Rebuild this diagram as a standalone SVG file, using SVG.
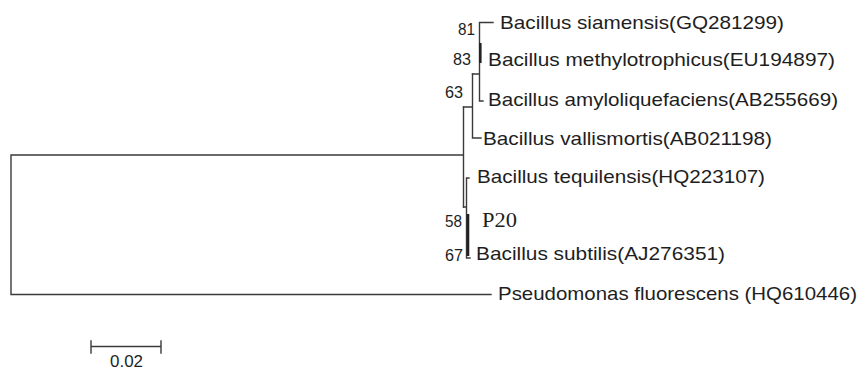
<svg xmlns="http://www.w3.org/2000/svg" width="861" height="370" viewBox="0 0 861 370">
<style>
.ln{stroke:#3a3a3a;stroke-width:1.4;fill:none;stroke-linecap:square}
.tk{stroke:#222;stroke-width:2.6;fill:none}
.lb{font-family:"Liberation Sans",Arial,sans-serif;font-size:19px;fill:#1e1e1e}
.bs{font-family:"Liberation Sans",Arial,sans-serif;font-size:16px;fill:#1e1e1e}
.sv{font-family:"Liberation Serif","Times New Roman",serif;font-size:20px;fill:#1e1e1e}
</style>
<rect width="861" height="370" fill="#fff"/>
<g id="connectors">
<path class="ln" d="M463,155 H11 V294.5 H491"/>
<path class="ln" d="M463.5,107 V207"/>
<path class="ln" d="M463.5,107 H472.5 M472.5,74 V138 H481"/>
<path class="ln" d="M472.5,74 H479.5 M479.5,22.5 V101 H483 M479.5,22.5 H493"/>
<path class="tk" d="M480.3,43 V63"/>
<path class="ln" d="M463.5,207 H466.5 M466.5,178 V258 H470 M466.5,178 H469"/>
<path class="tk" d="M468,214 V256"/>
<path class="ln" d="M91,346.5 H161 M91,341 V353 M161,341 V353"/>
</g>
<g id="node-siamensis"><text class="lb" x="500" y="29" textLength="284" lengthAdjust="spacingAndGlyphs">Bacillus siamensis(GQ281299)</text></g>
<g id="node-methylotrophicus"><text class="lb" x="488" y="66" textLength="347" lengthAdjust="spacingAndGlyphs">Bacillus methylotrophicus(EU194897)</text></g>
<g id="node-amyloliquefaciens"><text class="lb" x="488" y="106" textLength="350" lengthAdjust="spacingAndGlyphs">Bacillus amyloliquefaciens(AB255669)</text></g>
<g id="node-vallismortis"><text class="lb" x="483" y="145" textLength="289" lengthAdjust="spacingAndGlyphs">Bacillus vallismortis(AB021198)</text></g>
<g id="node-tequilensis"><text class="lb" x="477" y="183" textLength="288" lengthAdjust="spacingAndGlyphs">Bacillus tequilensis(HQ223107)</text></g>
<g id="node-P20"><text class="sv" x="482" y="227" textLength="35" lengthAdjust="spacingAndGlyphs">P20</text></g>
<g id="node-subtilis"><text class="lb" x="476" y="260" textLength="249" lengthAdjust="spacingAndGlyphs">Bacillus subtilis(AJ276351)</text></g>
<g id="node-pseudomonas"><text class="lb" x="498" y="300" textLength="359" lengthAdjust="spacingAndGlyphs">Pseudomonas fluorescens (HQ610446)</text></g>
<g id="bootstrap">
<text class="bs" x="458" y="35" textLength="17" lengthAdjust="spacingAndGlyphs">81</text>
<text class="bs" x="453" y="65" textLength="18" lengthAdjust="spacingAndGlyphs">83</text>
<text class="bs" x="445" y="98" textLength="18" lengthAdjust="spacingAndGlyphs">63</text>
<text class="bs" x="445" y="227" textLength="17" lengthAdjust="spacingAndGlyphs">58</text>
<text class="bs" x="445" y="261" textLength="18" lengthAdjust="spacingAndGlyphs">67</text>
</g>
<g id="scale"><text class="bs" x="110" y="367" font-size="16" textLength="33" lengthAdjust="spacingAndGlyphs">0.02</text></g>
</svg>
